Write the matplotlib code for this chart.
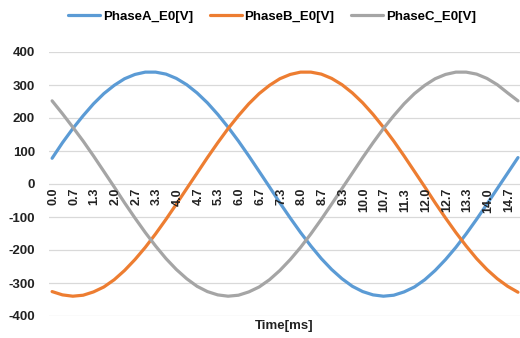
import matplotlib
matplotlib.use("Agg")
import matplotlib.pyplot as plt

# Sample times in ms
time_ms = [0.000, 0.333, 0.667, 1.000, 1.333, 1.667, 2.000, 2.333, 2.667, 3.000,
           3.333, 3.667, 4.000, 4.333, 4.667, 5.000, 5.333, 5.667, 6.000, 6.333,
           6.667, 7.000, 7.333, 7.667, 8.000, 8.333, 8.667, 9.000, 9.333, 9.667,
           10.000, 10.333, 10.667, 11.000, 11.333, 11.667, 12.000, 12.333, 12.667, 13.000,
           13.333, 13.667, 14.000, 14.333, 14.667, 15.000]

phase_a = [78, 125, 168, 207, 243, 274, 299, 319, 332, 339,
           339, 333, 320, 301, 276, 246, 211, 172, 130, 85,
           38, -9, -57, -103, -147, -188, -226, -259, -287, -310,
           -326, -336, -340, -337, -327, -312, -290, -262, -229, -192,
           -151, -107, -61, -14, 33, 80]

phase_b = [-326, -336, -340, -337, -327, -312, -290, -262, -229, -192,
           -151, -107, -61, -14, 33, 80, 125, 168, 207, 243,
           274, 299, 319, 332, 339, 339, 333, 320, 301, 276,
           246, 211, 172, 130, 85, 38, -9, -57, -103, -147,
           -188, -226, -259, -287, -310, -328]

phase_c = [252, 213, 172, 130, 85, 38, -9, -57, -103, -147,
           -188, -226, -259, -287, -310, -326, -336, -340, -337, -327,
           -312, -290, -262, -229, -192, -151, -107, -61, -14, 33,
           80, 125, 168, 207, 243, 274, 299, 319, 332, 339,
           339, 333, 320, 301, 276, 252]

series_names = ["PhaseA_E0[V]", "PhaseB_E0[V]", "PhaseC_E0[V]"]
series_colors = ["#5B9BD5", "#ED7D31", "#A5A5A5"]

tick_times = time_ms[::2][:23]
tick_labels = ["0.0", "0.7", "1.3", "2.0", "2.7", "3.3", "4.0", "4.7", "5.3", "6.0",
               "6.7", "7.3", "8.0", "8.7", "9.3", "10.0", "10.7", "11.3", "12.0", "12.7",
               "13.3", "14.0", "14.7"]
y_ticks = [-400, -300, -200, -100, 0, 100, 200, 300, 400]

plt.rcParams['font.family'] = ['Liberation Sans', 'DejaVu Sans']

W, H = 520, 338
fig = plt.figure(figsize=(W / 100, H / 100), dpi=100)
left_px, right_px, top_px, bottom_px = 49, 520, 52, 316
ax = fig.add_axes([left_px / W, 1 - bottom_px / H,
                   (right_px - left_px) / W, (bottom_px - top_px) / H])

for vals, name, col in zip([phase_a, phase_b, phase_c], series_names, series_colors):
    ax.plot(time_ms, vals, color=col, lw=2.3, label=name,
            solid_joinstyle='round', solid_capstyle='round')

ax.set_ylim(-400, 400)
ax.set_xlim(-0.1, 15.065)
ax.set_yticks(y_ticks)
ax.set_yticklabels([str(v) for v in y_ticks], fontsize=9.5, fontweight='bold',
                   color='#222222')
ax.tick_params(axis='y', length=0, pad=10)
ax.grid(axis='y', color='#D9D9D9', lw=0.9)
ax.set_axisbelow(True)

# Category labels sit just under the zero line
ax.set_xticks([])
for t, lab in zip(tick_times, tick_labels):
    ax.text(t + 0.04, -12, lab, rotation=90, ha='center', va='top',
            fontsize=9, fontweight='bold', color='#222222')

for s in ax.spines.values():
    s.set_visible(False)

fig.text(284 / W, 1 - 326 / H, "Time[ms]", ha='center', va='center',
         fontsize=9.5, fontweight='bold', color='#222222')

fig.legend(loc='center', bbox_to_anchor=(272 / W, 1 - 17 / H), ncol=3,
           frameon=False, prop={'size': 9.5, 'weight': 'bold'},
           handlelength=2.4, handletextpad=0.2, columnspacing=1.3)

fig.savefig("out.png", dpi=100)
